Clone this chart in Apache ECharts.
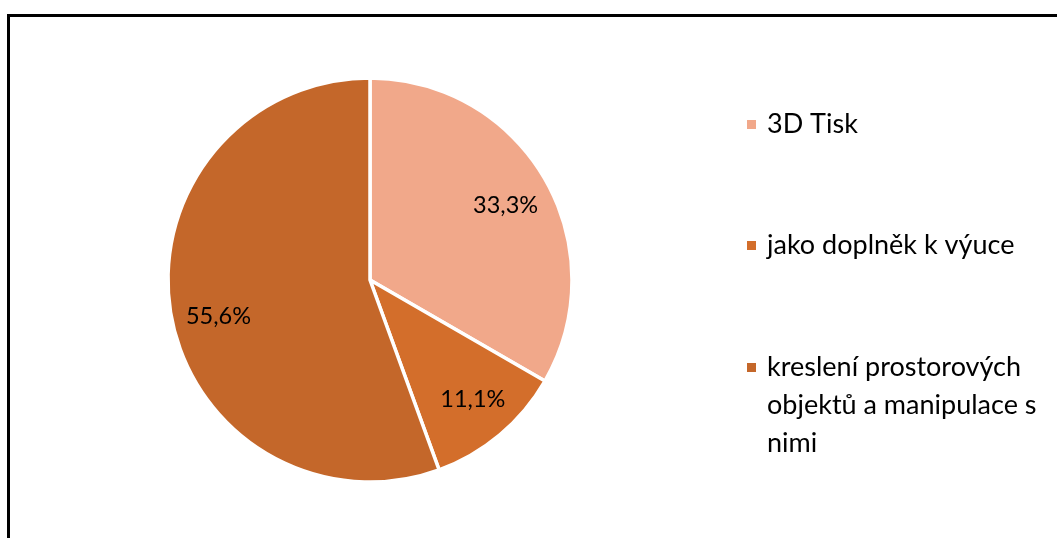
<!DOCTYPE html>
<html>
<head>
<meta charset="utf-8">
<script src="https://cdn.jsdelivr.net/npm/echarts@6/dist/echarts.min.js"></script>
<style>
  html, body { margin: 0; padding: 0; background: #fff; overflow: hidden; }
  #chart { width: 1057px; height: 538px; }
</style>
</head>
<body>
<div id="chart"></div>
<script>
const names = ['3D Tisk', 'jako doplněk k výuce', 'kreslení prostorových objektů a manipulace s nimi']
const legendLines = [['3D Tisk'], ['jako doplněk k výuce'], ['kreslení prostorových', 'objektů a manipulace s', 'nimi']]
const values = [3, 1, 5]
const colors = ['#F1A88A', '#D36E2B', '#C4672A']

const font = 'Lato'
// small nudges so the % labels sit where Excel put them
const labelShift = [[-3, 5], [0, -3], [6, 9]]

const pieData = names.map((n, i) => ({name: n, value: values[i], itemStyle: {color: colors[i]}}))
const labelData = names.map((n, i) => ({name: n, value: values[i]}))

let myChart = echarts.init(document.getElementById('chart'))

// one legend per item, so the icon sits on the first line of the long one
const lh = 38
const firstLineY = [130, 251, 373]
const legends = names.map((n, i) => {
  let lines = legendLines[i]
  // pad with blank lines above so the first line lands in the middle (next to the icon)
  let pad = lines.length - 1
  let all = Array(pad).fill(' ').concat(lines)
  return {
    orient: 'vertical',
    left: 745,
    top: firstLineY[i] - (all.length * lh) / 2,
    padding: 0,
    icon: 'rect',
    itemWidth: 11,
    itemHeight: 11,
    selectedMode: false,
    data: [n],
    formatter: () => all.map(l => '{t|' + l + '}').join('\n'),
    textStyle: {
      rich: {
        t: {fontFamily: font, fontSize: 27, lineHeight: lh, color: '#000', padding: [0, 0, 0, 5]}
      }
    }
  }
})

myChart.setOption({
  animation: false,
  graphic: [{
    type: 'rect',
    shape: {x: 8.5, y: 15.5, width: 1200, height: 700},
    style: {fill: 'none', stroke: '#000', lineWidth: 3},
    silent: true
  }],
  legend: legends,
  series: [
    {
      type: 'pie',
      center: [370, 280],
      radius: 202,
      startAngle: 90,
      clockwise: true,
      itemStyle: {borderColor: '#fff', borderWidth: 3.5},
      label: {show: false},
      labelLine: {show: false},
      emphasis: {disabled: true},
      data: pieData
    },
    {
      // invisible ring only used to put the % labels further out
      type: 'pie',
      center: [370, 280],
      radius: [113, 201],
      startAngle: 90,
      clockwise: true,
      silent: true,
      itemStyle: {color: 'transparent'},
      label: {
        show: true,
        position: 'inside',
        fontFamily: font,
        fontSize: 23.5,
        color: '#000',
        formatter: p => p.percent.toFixed(1).replace('.', ',') + '%'
      },
      labelLayout: p => ({dx: labelShift[p.dataIndex][0], dy: labelShift[p.dataIndex][1]}),
      labelLine: {show: false},
      emphasis: {disabled: true},
      data: labelData
    }
  ]
})
</script>
</body>
</html>
